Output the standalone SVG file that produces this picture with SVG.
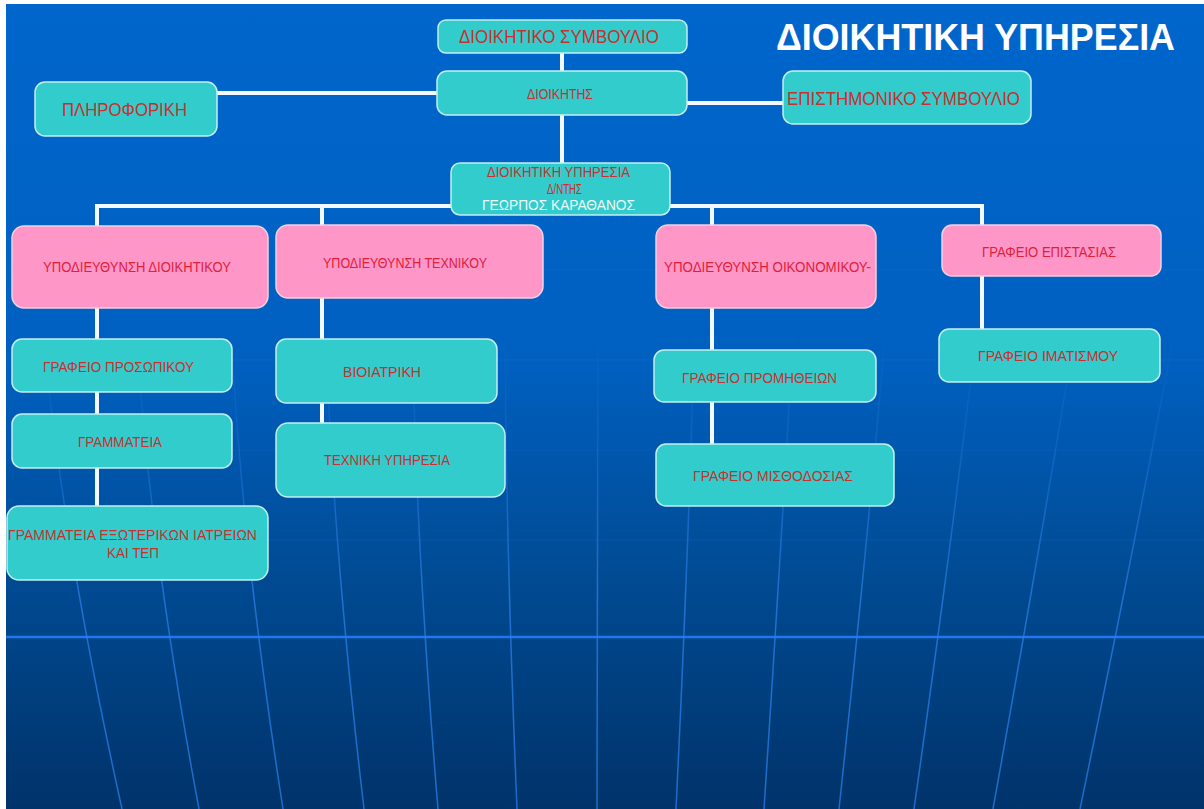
<svg xmlns="http://www.w3.org/2000/svg" width="1204" height="809" viewBox="0 0 1204 809">
<defs>
<linearGradient id="bg" x1="0" y1="0" x2="0" y2="1">
<stop offset="0" stop-color="#0066cc"/>
<stop offset="0.45" stop-color="#0060c0"/>
<stop offset="0.72" stop-color="#004a92"/>
<stop offset="1" stop-color="#00336a"/>
</linearGradient>
<linearGradient id="fade" gradientUnits="userSpaceOnUse" x1="0" y1="330" x2="0" y2="600">
<stop offset="0" stop-color="#2a7ee6" stop-opacity="0"/>
<stop offset="1" stop-color="#2a7ee6" stop-opacity="0.75"/>
</linearGradient>
<style>
.teal{fill:#33cccc;stroke:#c4eeee;stroke-width:1.5}
.pink{fill:#ff96c8;stroke:#f4d0e4;stroke-width:1.5}
.t{font-family:"Liberation Sans",Arial,sans-serif;fill:#c8302e}
.tp{font-family:"Liberation Sans",Arial,sans-serif;fill:#e0203a}
.s{font-size:14px}
.l{font-size:19px}
.con{stroke:#f4f8ff;stroke-width:4;fill:none}
.hgrid{stroke:#2a7ee6;stroke-width:1;opacity:0.15}
.vgrid{stroke:url(#fade);stroke-width:1.5;fill:none}
</style>
</defs>
<rect width="1204" height="809" fill="url(#bg)"/>
<g id="background-grid">
<line class="hgrid" x1="6" y1="270" x2="1204" y2="270"/>
<line class="hgrid" x1="6" y1="360" x2="1204" y2="360"/>
<line class="hgrid" x1="6" y1="450" x2="1204" y2="450"/>
<line class="hgrid" x1="6" y1="540" x2="1204" y2="540"/>
<line x1="6" y1="637" x2="1204" y2="637" stroke="#1f78f0" stroke-width="2.5"/>
<path class="vgrid" d="M40,300 Q58,520 122,809"/>
<path class="vgrid" d="M135,300 Q145,520 199,809"/>
<path class="vgrid" d="M230,300 Q238,520 283,809"/>
<path class="vgrid" d="M325,300 Q330,520 364,809"/>
<path class="vgrid" d="M412,300 Q414,520 438,809"/>
<path class="vgrid" d="M505,300 Q505,520 517,809"/>
<path class="vgrid" d="M598,300 Q598,520 597,809"/>
<path class="vgrid" d="M695,300 Q690,520 676,809"/>
<path class="vgrid" d="M795,300 Q783,520 764,809"/>
<path class="vgrid" d="M888,300 Q870,520 839,809"/>
<path class="vgrid" d="M980,300 Q955,520 914,809"/>
<path class="vgrid" d="M1080,300 Q1045,520 993,809"/>
<path class="vgrid" d="M1180,300 Q1140,520 1080,809"/>
</g>
<rect x="0" y="0" width="6" height="809" fill="#ffffff"/>
<rect x="0" y="0" width="1204" height="4" fill="#ffffff"/>
<text x="776" y="50" font-family="Liberation Sans, Arial, sans-serif" font-weight="bold" font-size="36" fill="#ffffff" textLength="399" lengthAdjust="spacingAndGlyphs">ΔΙΟΙΚΗΤΙΚΗ ΥΠΗΡΕΣΙΑ</text>
<g id="connectors">
<line class="con" x1="562" y1="53" x2="562" y2="71"/>
<line class="con" x1="562" y1="115" x2="562" y2="163"/>
<line class="con" x1="216" y1="93" x2="438" y2="93"/>
<line class="con" x1="686" y1="103" x2="784" y2="103"/>
<polyline class="con" points="97,227 97,206 982,206 982,226"/>
<line class="con" x1="322" y1="206" x2="322" y2="226"/>
<line class="con" x1="712" y1="206" x2="712" y2="226"/>
<line class="con" x1="97" y1="307" x2="97" y2="507"/>
<line class="con" x1="322" y1="297" x2="322" y2="424"/>
<line class="con" x1="712" y1="307" x2="712" y2="445"/>
<line class="con" x1="982" y1="275" x2="982" y2="330"/>
</g>
<g id="n-dioikitiko-symvoulio">
<rect class="teal" x="438" y="20" width="249" height="33" rx="8"/>
<text class="t l" x="459" y="43" textLength="200" lengthAdjust="spacingAndGlyphs">ΔΙΟΙΚΗΤΙΚΟ ΣΥΜΒΟΥΛΙΟ</text>
</g>
<g id="n-dioikitis">
<rect class="teal" x="437" y="71" width="250" height="44" rx="10"/>
<text class="t s" x="527" y="99" textLength="66" lengthAdjust="spacingAndGlyphs">ΔΙΟΙΚΗΤΗΣ</text>
</g>
<g id="n-pliroforiki">
<rect class="teal" x="35" y="82" width="182" height="54" rx="10"/>
<text class="t l" x="62" y="116" textLength="125" lengthAdjust="spacingAndGlyphs">ΠΛΗΡΟΦΟΡΙΚΗ</text>
</g>
<g id="n-epistimoniko">
<rect class="teal" x="783" y="71" width="248" height="53" rx="10"/>
<text class="t l" x="787" y="105" textLength="233" lengthAdjust="spacingAndGlyphs">ΕΠΙΣΤΗΜΟΝΙΚΟ ΣΥΜΒΟΥΛΙΟ</text>
</g>
<g id="n-dioikitiki-ypiresia">
<rect class="teal" x="451" y="163" width="219" height="52" rx="9"/>
<text class="t s" x="487" y="177" textLength="143" lengthAdjust="spacingAndGlyphs">ΔΙΟΙΚΗΤΙΚΗ  ΥΠΗΡΕΣΙΑ</text>
<text class="t s" x="547" y="194" textLength="35" lengthAdjust="spacingAndGlyphs">Δ/ΝΤΗΣ</text>
<text class="s" x="482" y="210" font-family="Liberation Sans, Arial, sans-serif" fill="#eef8f8" textLength="153" lengthAdjust="spacingAndGlyphs">ΓΕΩΡΠΟΣ ΚΑΡΑΘΑΝΟΣ</text>
</g>
<g id="n-ypodieythinsi-dioikitikou">
<rect class="pink" x="12" y="226" width="256" height="82" rx="12"/>
<text class="tp s" x="43" y="272" textLength="188" lengthAdjust="spacingAndGlyphs">ΥΠΟΔΙΕΥΘΥΝΣΗ  ΔΙΟΙΚΗΤΙΚΟΥ</text>
</g>
<g id="n-ypodieythinsi-texnikou">
<rect class="pink" x="276" y="225" width="267" height="73" rx="12"/>
<text class="tp s" x="323" y="268" textLength="164" lengthAdjust="spacingAndGlyphs">ΥΠΟΔΙΕΥΘΥΝΣΗ  ΤΕΧΝΙΚΟΥ</text>
</g>
<g id="n-ypodieythinsi-oikonomikou">
<rect class="pink" x="656" y="225" width="220" height="83" rx="12"/>
<text class="tp s" x="664" y="272" textLength="207" lengthAdjust="spacingAndGlyphs">ΥΠΟΔΙΕΥΘΥΝΣΗ  ΟΙΚΟΝΟΜΙΚΟΥ-</text>
</g>
<g id="n-grafeio-epistasias">
<rect class="pink" x="942" y="225" width="219" height="51" rx="10"/>
<text class="tp s" x="982" y="257" textLength="134" lengthAdjust="spacingAndGlyphs">ΓΡΑΦΕΙΟ  ΕΠΙΣΤΑΣΙΑΣ</text>
</g>
<g id="n-grafeio-prosopikou">
<rect class="teal" x="12" y="339" width="220" height="53" rx="10"/>
<text class="t s" x="43" y="372" textLength="151" lengthAdjust="spacingAndGlyphs">ΓΡΑΦΕΙΟ  ΠΡΟΣΩΠΙΚΟΥ</text>
</g>
<g id="n-grammateia">
<rect class="teal" x="12" y="414" width="220" height="54" rx="10"/>
<text class="t s" x="78" y="447" textLength="84" lengthAdjust="spacingAndGlyphs">ΓΡΑΜΜΑΤΕΙΑ</text>
</g>
<g id="n-grammateia-exoterikon">
<rect class="teal" x="7" y="506" width="261" height="74" rx="12"/>
<text class="t s" x="8" y="540" textLength="249" lengthAdjust="spacingAndGlyphs">ΓΡΑΜΜΑΤΕΙΑ  ΕΞΩΤΕΡΙΚΩΝ  ΙΑΤΡΕΙΩΝ</text>
<text class="t s" x="107" y="558" textLength="52" lengthAdjust="spacingAndGlyphs">ΚΑΙ ΤΕΠ</text>
</g>
<g id="n-bioiatriki">
<rect class="teal" x="276" y="339" width="221" height="64" rx="10"/>
<text class="t s" x="343" y="377" textLength="78" lengthAdjust="spacingAndGlyphs">ΒΙΟΙΑΤΡΙΚΗ</text>
</g>
<g id="n-texniki-ypiresia">
<rect class="teal" x="276" y="423" width="229" height="74" rx="12"/>
<text class="t s" x="324" y="465" textLength="126" lengthAdjust="spacingAndGlyphs">ΤΕΧΝΙΚΗ  ΥΠΗΡΕΣΙΑ</text>
</g>
<g id="n-grafeio-promitheion">
<rect class="teal" x="654" y="350" width="222" height="52" rx="10"/>
<text class="t s" x="682" y="383" textLength="155" lengthAdjust="spacingAndGlyphs">ΓΡΑΦΕΙΟ  ΠΡΟΜΗΘΕΙΩΝ</text>
</g>
<g id="n-grafeio-misthodosias">
<rect class="teal" x="656" y="444" width="238" height="62" rx="10"/>
<text class="t s" x="693" y="481" textLength="160" lengthAdjust="spacingAndGlyphs">ΓΡΑΦΕΙΟ  ΜΙΣΘΟΔΟΣΙΑΣ</text>
</g>
<g id="n-grafeio-imatismou">
<rect class="teal" x="939" y="329" width="221" height="53" rx="10"/>
<text class="t s" x="978" y="361" textLength="140" lengthAdjust="spacingAndGlyphs">ΓΡΑΦΕΙΟ  ΙΜΑΤΙΣΜΟΥ</text>
</g>
</svg>
